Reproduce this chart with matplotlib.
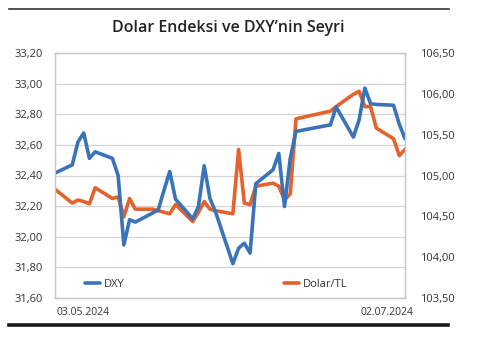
import numpy as np
import pandas as pd
import matplotlib
matplotlib.use('Agg')
import matplotlib.pyplot as plt

# DXY, daily closes
dxy_dates = ['2024-05-03', '2024-05-06', '2024-05-07', '2024-05-08', '2024-05-09',
             '2024-05-10', '2024-05-13', '2024-05-14', '2024-05-15', '2024-05-16',
             '2024-05-17', '2024-05-20', '2024-05-21', '2024-05-22', '2024-05-23',
             '2024-05-24', '2024-05-27', '2024-05-28', '2024-05-29', '2024-05-30',
             '2024-05-31', '2024-06-03', '2024-06-04', '2024-06-05', '2024-06-06',
             '2024-06-07', '2024-06-10', '2024-06-11', '2024-06-12', '2024-06-13',
             '2024-06-14', '2024-06-20', '2024-06-21', '2024-06-24', '2024-06-25',
             '2024-06-26', '2024-06-27', '2024-06-28', '2024-07-01', '2024-07-02',
             '2024-07-03']
dxy = [105.03, 105.13, 105.41, 105.52, 105.21,
       105.29, 105.21, 105.00, 104.15, 104.46,
       104.43, 104.54, 104.58, 104.82, 105.05,
       104.71, 104.47, 104.62, 105.12, 104.72,
       104.55, 103.92, 104.11, 104.17, 104.05,
       104.90, 105.07, 105.27, 104.62, 105.21,
       105.54, 105.62, 105.84, 105.47, 105.68,
       106.07, 105.88, 105.87, 105.86, 105.63,
       105.45]

# USD/TRY
usd_dates = ['2024-05-03', '2024-05-06', '2024-05-07', '2024-05-08', '2024-05-09',
             '2024-05-10', '2024-05-13', '2024-05-14', '2024-05-15', '2024-05-16',
             '2024-05-17', '2024-05-20', '2024-05-21', '2024-05-22', '2024-05-23',
             '2024-05-24', '2024-05-27', '2024-05-28', '2024-05-29', '2024-05-30',
             '2024-05-31', '2024-06-03', '2024-06-04', '2024-06-05', '2024-06-06',
             '2024-06-07', '2024-06-10', '2024-06-11', '2024-06-12', '2024-06-13',
             '2024-06-14', '2024-06-20', '2024-06-21', '2024-06-24', '2024-06-25',
             '2024-06-26', '2024-06-27', '2024-06-28', '2024-07-01', '2024-07-02',
             '2024-07-03']
usd_try = [32.31, 32.22, 32.24, 32.23, 32.215,
           32.32, 32.25, 32.26, 32.13, 32.25,
           32.18, 32.18, 32.17, 32.16, 32.15,
           32.21, 32.10, 32.16, 32.23, 32.18,
           32.17, 32.15, 32.57, 32.22, 32.21,
           32.33, 32.35, 32.33, 32.24, 32.28,
           32.77, 32.82, 32.85, 32.93, 32.95,
           32.85, 32.85, 32.71, 32.64, 32.53,
           32.57]

left_ticks = [31.6, 31.8, 32.0, 32.2, 32.4, 32.6, 32.8, 33.0, 33.2]
right_ticks = [103.5, 104.0, 104.5, 105.0, 105.5, 106.0, 106.5]
first_label = '03.05.2024'
last_label = '02.07.2024'
title = 'Dolar Endeksi ve DXY\u2019nin Seyri'

BLUE = '#3b73b9'
ORANGE = '#e4622c'
TXT = '#333333'
GRID = '#d4d4d4'

start = pd.Timestamp(dxy_dates[0])
x_dxy = (pd.to_datetime(dxy_dates) - start).days.values
x_usd = (pd.to_datetime(usd_dates) - start).days.values


def tr(v):
    return ('%.2f' % v).replace('.', ',')


plt.rcParams['font.family'] = ['Open Sans', 'DejaVu Sans']

fig = plt.figure(figsize=(4.79, 3.48), dpi=100)
fig.patch.set_facecolor('white')

ax = fig.add_axes([55 / 479, 50 / 348, 350 / 479, 245 / 348])
ax2 = ax.twinx()

ax.plot(x_usd, usd_try, color=ORANGE, lw=2.6, solid_joinstyle='round',
        solid_capstyle='round', label='Dolar/TL')
ax2.plot(x_dxy, dxy, color=BLUE, lw=2.6, solid_joinstyle='round',
         solid_capstyle='round', label='DXY')

ax.set_xlim(0, 61)
ax.set_ylim(31.6, 33.2)
ax2.set_ylim(103.5, 106.5)

ax.set_yticks(left_ticks)
ax.set_yticklabels([tr(v) for v in left_ticks])
ax2.set_yticks(right_ticks)
ax2.set_yticklabels([tr(v) for v in right_ticks])
ax.set_xticks([])

ax.grid(axis='y', color=GRID, lw=0.9)
ax.set_axisbelow(True)
for a in (ax, ax2):
    for s in a.spines.values():
        s.set_color('#c8c8c8')
        s.set_linewidth(0.9)
    a.tick_params(axis='y', length=0, labelsize=8, labelcolor=TXT)
ax.tick_params(axis='y', pad=9)
ax2.tick_params(axis='y', pad=11)

ax.text(0.08, -0.058, first_label, transform=ax.transAxes, ha='center',
        va='center', fontsize=7.5, color=TXT)
ax.text(0.949, -0.058, last_label, transform=ax.transAxes, ha='center',
        va='center', fontsize=7.5, color=TXT)

h1 = ax2.get_lines()[0]
h2 = ax.get_lines()[0]
leg = ax2.legend([h1, h2], ['DXY', 'Dolar/TL'], ncol=2, frameon=False,
                 loc='center left', bbox_to_anchor=(0.086, 0.056),
                 borderaxespad=0, borderpad=0, handlelength=1.35,
                 handletextpad=0.35, columnspacing=14.3, fontsize=8)
for t in leg.get_texts():
    t.set_color(TXT)

fig.text(228 / 479, 1 - 28 / 348, title, ha='center', va='center',
         fontsize=11.5, fontweight='semibold', color='#222222')

# rules above and below the chart
fig.add_artist(plt.Line2D([9 / 479, 449 / 479], [1 - 9 / 348, 1 - 9 / 348],
                          color='#333333', lw=1.2, transform=fig.transFigure))
fig.add_artist(plt.Line2D([9 / 479, 448 / 479], [1 - 324.5 / 348, 1 - 324.5 / 348],
                          color='#1a1a1a', lw=2.6, transform=fig.transFigure))

fig.savefig('out.png', dpi=100, facecolor='white')
